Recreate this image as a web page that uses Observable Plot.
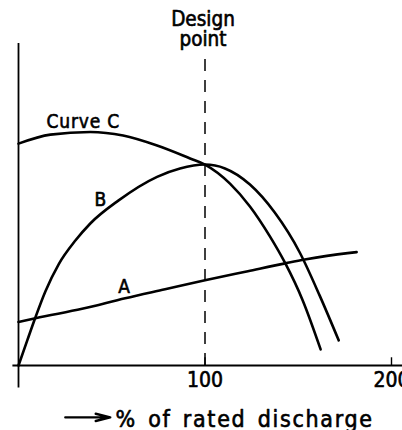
<!DOCTYPE html>
<html>
<head>
<meta charset="utf-8">
<script src="https://cdn.jsdelivr.net/npm/d3@7"></script>
<script src="https://cdn.jsdelivr.net/npm/@observablehq/plot@0.6"></script>
<style>
  html, body { margin: 0; padding: 0; background: #fff; }
  #chart svg { display: block; background: #fff; }
</style>
</head>
<body>
<div id="chart"></div>
<script>
// Discharge (% of rated) and relative efficiency for the three characteristic curves
const curveA_q = [0, 9.1, 34.1, 57.2, 78.6, 100, 123.0, 143.7, 153.5, 176.5, 181.3];
const curveA_v = [13.5, 14.7, 17.6, 20.9, 23.7, 26.5, 29.3, 31.8, 32.9, 34.9, 35.2];

const curveB_q = [0, 4.7, 9.1, 14.4, 21.6, 30.5, 38.5, 53.5, 74.3, 86.6, 100, 110.7, 124.1, 137.4, 150.8, 161.5, 171.7];
const curveB_v = [0, 7.8, 15.0, 23.0, 31.5, 38.8, 44.1, 51.2, 58.6, 61.2, 62.4, 61.2, 56.2, 47.5, 35.1, 21.7, 7.8];

const curveC_q = [0, 17.1, 38.5, 56.1, 74.3, 92.0, 100, 113.4, 124.1, 134.8, 142.8, 152.4, 162.0];
const curveC_v = [68.9, 71.7, 72.5, 71.4, 68.3, 64.3, 62.4, 56.5, 49.4, 40.1, 32.0, 20.2, 5.0];

const designPoint = 100;
const tickValues = [100, 200];
const xTitle = "% of rated discharge";

const toRows = (qs, vs) => qs.map((q, i) => ({q, v: vs[i]}));
const curveA = toRows(curveA_q, curveA_v);
const curveB = toRows(curveB_q, curveB_v);
const curveC = toRows(curveC_q, curveC_v);

const font = "'DejaVu Sans Condensed', 'DejaVu Sans', sans-serif";
const ink = "#000";
const lineStyle = {x: "q", y: "v", stroke: ink, strokeWidth: 2.6, curve: "monotone-x"};
// a hairline outline gives the lettering the weight of stencilled text
const textStyle = {fill: ink, stroke: ink, strokeWidth: 0.6};

const chart = Plot.plot({
  width: 402,
  height: 430,
  marginLeft: 18,
  marginRight: 11,
  marginTop: 43,
  marginBottom: 65,
  style: {fontFamily: font, color: ink, background: "#fff"},
  x: {domain: [0, 200], axis: null},
  y: {domain: [0, 100], axis: null},
  marks: [
    // axes drawn as plain rules, the vertical one running past the origin
    Plot.ruleX([0], {y1: -7, y2: 100, stroke: ink, strokeWidth: 1.8}),
    Plot.ruleY([0], {x1: -3, x2: 207, stroke: ink, strokeWidth: 1.8}),
    Plot.ruleX(tickValues, {y1: 0, y2: 2.4, stroke: ink, strokeWidth: 1.4}),
    Plot.text(tickValues, {
      x: d => d, text: d => `${d}`, frameAnchor: "bottom",
      lineAnchor: "top", dy: 7, fontSize: 21, ...textStyle
    }),
    // design point marker
    Plot.ruleX([designPoint], {y1: 0, y2: 97.2, stroke: ink, strokeWidth: 1.5, strokeDasharray: "12,9"}),
    Plot.text(["Design\npoint"], {
      x: () => designPoint, frameAnchor: "top", lineAnchor: "bottom",
      dx: -2, dy: 2, lineHeight: 0.97, fontSize: 20.5, ...textStyle
    }),
    // characteristic curves
    Plot.line(curveA, lineStyle),
    Plot.line(curveB, lineStyle),
    Plot.line(curveC, lineStyle),
    // curve labels
    Plot.text([curveC[2]], {x: "q", y: "v", text: () => "Curve C", dx: -7, dy: -4.5,
      lineAnchor: "bottom", fontSize: 19, ...textStyle}),
    Plot.text([curveB[7]], {x: "q", y: "v", text: () => "B", dx: -18, dy: 5,
      lineAnchor: "bottom", fontSize: 19, ...textStyle}),
    Plot.text([curveA[3]], {x: "q", y: "v", text: () => "A", dx: -1, dy: -5,
      lineAnchor: "bottom", fontSize: 19, ...textStyle}),
    // x axis title with its leading arrow
    Plot.arrow([0], {x1: 25.1, x2: 49.2, y1: -16.1, y2: -16.1, bend: 0,
      headLength: 14, headAngle: 28, stroke: ink, strokeWidth: 2.4}),
    Plot.text([xTitle], {
      frameAnchor: "bottom-left", textAnchor: "start", lineAnchor: "bottom",
      dx: 97, dy: 61, fontSize: 23, ...textStyle
    })
  ]
});

// widen the tracking of the axis title and the curve name
d3.select(chart).selectAll("text")
  .filter(function() { return this.textContent === xTitle; })
  .style("letter-spacing", "1.7px")
  .style("word-spacing", "3px");
d3.select(chart).selectAll("text")
  .filter(function() { return this.textContent === "Curve C"; })
  .style("letter-spacing", "0.8px");

document.getElementById("chart").appendChild(chart);
</script>
</body>
</html>
